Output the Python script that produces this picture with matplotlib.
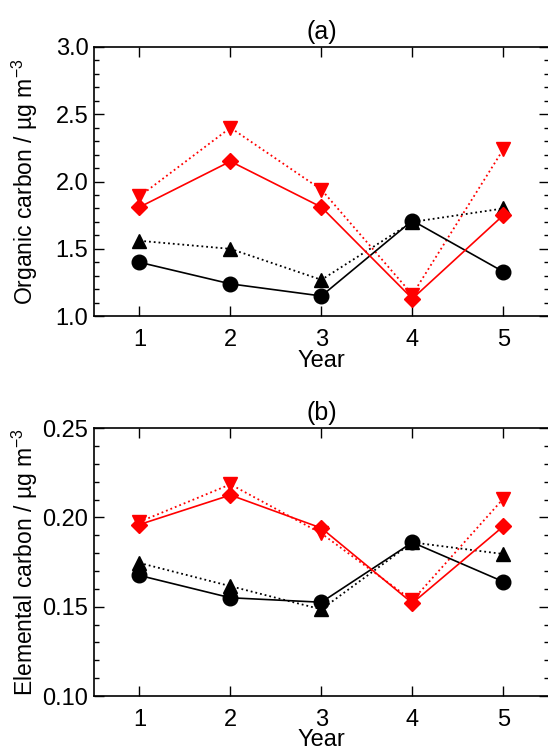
import matplotlib
matplotlib.use("Agg")
import matplotlib.pyplot as plt
from matplotlib.ticker import MultipleLocator

plt.rcParams["font.family"] = ["Liberation Sans", "DejaVu Sans"]
plt.rcParams["mathtext.fontset"] = "custom"
plt.rcParams["mathtext.rm"] = "Liberation Sans"
plt.rcParams["mathtext.it"] = "Liberation Sans"

years = [1, 2, 3, 4, 5]

# (a) organic carbon, ug m-3
oc_circle = [1.40, 1.24, 1.15, 1.71, 1.33]
oc_triangle = [1.56, 1.50, 1.27, 1.70, 1.80]
oc_red_tri = [1.89, 2.40, 1.94, 1.16, 2.24]
oc_red_diamond = [1.81, 2.15, 1.81, 1.13, 1.75]

# (b) elemental carbon, ug m-3
ec_circle = [0.1675, 0.155, 0.1525, 0.186, 0.164]
ec_triangle = [0.1745, 0.1615, 0.1485, 0.186, 0.1795]
ec_red_tri = [0.1975, 0.2185, 0.191, 0.1535, 0.2105]
ec_red_diamond = [0.196, 0.2125, 0.194, 0.152, 0.195]

fig = plt.figure(figsize=(5.48, 7.51), dpi=100)
ax_a = fig.add_axes([0.1715, 0.579, 0.83, 0.3585])
ax_b = fig.add_axes([0.1715, 0.0732, 0.83, 0.3568])


def draw_panel(ax, circle, triangle, red_tri, red_diamond, ylim, major, minor, ylabel, title, fmt):
    ax.plot(years, triangle, ":", color="black", lw=1.3, marker="^", ms=10.5, zorder=3)
    ax.plot(years, circle, "-", color="black", lw=1.2, marker="o", ms=10.5, zorder=4)
    ax.plot(years, red_tri, ":", color="red", lw=1.3, marker="v", ms=10.5, zorder=3)
    ax.plot(years, red_diamond, "-", color="red", lw=1.2, marker="D", ms=8, zorder=4)

    ax.set_xlim(0.5, 5.5)
    ax.set_ylim(*ylim)
    ax.set_xticks(years)
    ax.yaxis.set_major_locator(MultipleLocator(major))
    ax.yaxis.set_minor_locator(MultipleLocator(minor))
    ax.yaxis.set_major_formatter(fmt)
    ax.tick_params(axis="both", which="both", direction="in", top=True, right=True,
                   labelsize=17, width=1.0)
    ax.tick_params(axis="both", which="major", length=7)
    ax.tick_params(axis="x", which="major", pad=9)
    ax.tick_params(axis="y", which="major", pad=4)
    ax.tick_params(axis="y", which="minor", length=3.5)
    for spine in ax.spines.values():
        spine.set_linewidth(1.2)

    ax.set_xlabel("Year", fontsize=17)
    ax.xaxis.set_label_coords(0.5, -0.124)
    ax.set_ylabel(ylabel, fontsize=16.5)
    ax.yaxis.set_label_coords(-0.118, 0.5)
    ax.set_title(title, fontsize=18, pad=6)


draw_panel(ax_a, oc_circle, oc_triangle, oc_red_tri, oc_red_diamond,
           (1.0, 3.0), 0.5, 0.1, "Organic carbon / µg m$^{-3}$", "(a)", "{x:.1f}")
draw_panel(ax_b, ec_circle, ec_triangle, ec_red_tri, ec_red_diamond,
           (0.10, 0.25), 0.05, 0.01, "Elemental carbon / µg m$^{-3}$", "(b)", "{x:.2f}")

fig.savefig("out.png", dpi=100)
